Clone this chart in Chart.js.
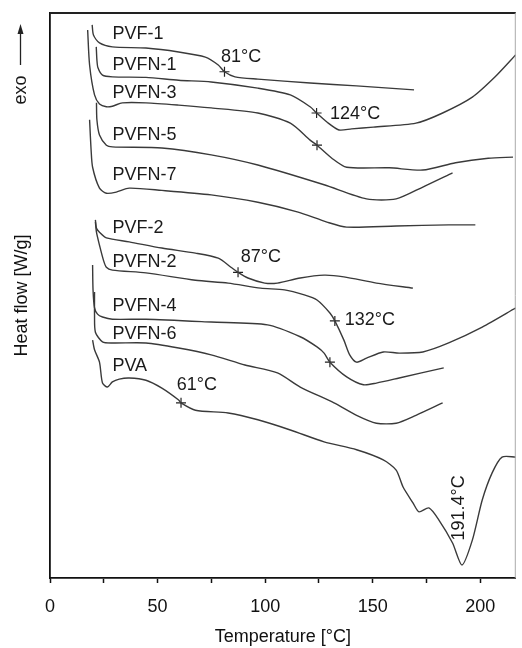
<!DOCTYPE html>
<html><head><meta charset="utf-8">
<script src="https://cdn.jsdelivr.net/npm/chart.js@4.4.1/dist/chart.umd.min.js"></script>
<style>html,body{margin:0;padding:0;background:#fff}</style>
</head><body><canvas id="c" width="522" height="648"></canvas>
<script>
// ---- data: [temperature °C, heat flow (arbitrary, offset)] ----
const pvf1 = [[19.6,97.9],[20.2,96.1],[23.0,94.7],[29.0,94.0],[44.6,93.8],[59.8,93.1],[72.2,92.2],[78.2,90.8],[81.1,89.6],[86.0,88.7],[96.6,88.3],[120.9,87.6],[142.5,87.1],[169.2,86.4]];
const pvfn1 = [[21.5,94.0],[21.8,91.7],[22.3,90.3],[24.4,89.0],[29.0,88.7],[44.6,88.6],[59.8,88.1],[74.9,87.8],[96.6,86.7],[111.7,85.5],[120.9,83.4],[123.9,82.3],[128.7,80.7],[134.3,79.3],[140.2,79.5],[150.3,79.8],[170.1,80.5],[182.5,82.3],[196.3,85.1],[206.9,88.7],[216.5,92.6]];
const pvfn3 = [[17.5,97.0],[18.4,90.8],[20.7,85.5],[23.0,83.9],[26.2,83.4],[29.0,83.5],[33.6,84.1],[44.6,84.1],[59.8,83.7],[74.9,83.2],[96.6,82.3],[111.7,80.5],[120.9,77.5],[124.1,76.6],[131.0,74.3],[137.9,72.7],[157.7,72.6],[173.3,72.2],[188.5,73.5],[203.7,74.3],[215.2,74.5]];
const pvfn5 = [[21.6,84.1],[21.8,81.1],[23.0,78.4],[26.2,76.6],[29.0,76.3],[52.0,76.1],[74.9,74.9],[96.6,73.1],[127.4,69.6],[147.1,67.1],[160.9,67.1],[173.3,69.2],[187.1,71.7]];
const pvfn7 = [[18.4,81.1],[19.1,75.8],[19.8,72.7],[23.0,69.0],[26.2,68.1],[30.8,68.3],[36.8,69.0],[52.0,68.6],[74.9,67.8],[96.6,66.5],[114.9,64.8],[128.7,63.0],[137.9,62.1],[160.9,62.3],[185.3,62.5],[197.7,62.5]];
const pvf2 = [[21.1,63.4],[21.6,61.9],[23.0,61.2],[26.2,60.2],[36.8,59.5],[52.0,58.4],[67.6,57.5],[78.2,56.6],[84.1,55.0],[87.4,54.1],[92.0,53.1],[99.8,52.2],[105.7,52.2],[116.3,53.1],[127.4,53.6],[136.6,53.3],[151.7,52.2],[168.7,51.3]];
const pvfn2 = [[21.1,63.0],[21.6,61.2],[23.0,58.9],[24.8,56.3],[26.2,55.0],[29.0,54.5],[44.6,54.0],[67.6,52.7],[82.8,52.2],[97.9,51.3],[109.0,51.0],[118.2,50.1],[124.1,49.2],[130.1,46.9],[132.4,45.5],[136.6,42.1],[139.3,39.5],[142.5,38.2],[147.1,38.9],[154.9,40.0],[162.3,39.8],[173.3,40.0],[185.3,41.6],[200.9,44.4],[216.5,47.8]];
const pvfn4 = [[19.8,55.4],[20.0,51.0],[20.7,47.8],[22.1,46.7],[24.4,46.2],[29.0,45.8],[44.6,45.8],[74.9,45.3],[101.1,44.8],[116.3,42.7],[124.1,40.9],[127.4,39.8],[130.1,38.2],[137.9,35.6],[145.7,34.2],[151.7,34.5],[162.3,35.4],[183.0,37.2]];
const pvfn6 = [[20.7,50.6],[20.7,46.5],[21.1,43.5],[24.4,41.8],[29.0,41.6],[44.6,41.6],[59.8,40.7],[74.9,39.5],[90.6,37.7],[105.7,36.3],[116.3,33.8],[132.0,31.0],[142.5,28.8],[151.7,27.4],[160.9,27.4],[170.1,28.8],[182.5,31.0]];
const pva = [[19.8,42.1],[20.7,40.4],[23.0,38.2],[24.4,34.5],[26.7,33.8],[29.0,34.7],[32.2,35.2],[36.8,35.4],[44.6,35.0],[52.0,33.6],[59.8,31.5],[60.9,31.0],[67.6,29.7],[82.8,29.2],[96.6,28.0],[111.7,26.2],[127.4,24.1],[142.5,22.7],[154.9,20.9],[160.9,19.1],[164.1,16.1],[168.7,13.3],[171.5,11.7],[176.1,12.4],[180.7,10.3],[187.1,6.2],[191.5,2.3],[196.3,6.7],[200.9,13.8],[205.5,18.6],[210.1,21.4],[216.5,21.4]];

// transition markers (temperature, heat flow)
const markT = [81.1, 123.9, 124.1, 87.4, 132.4, 130.1, 60.9];
const markH = [89.6, 82.3, 76.6, 54.1, 45.5, 38.2, 31.0];

// curve names with position (T, H)
const names = ['PVF-1','PVFN-1','PVFN-3','PVFN-5','PVFN-7','PVF-2','PVFN-2','PVFN-4','PVFN-6','PVA'];
const nameT = [29.0,29.0,29.0,29.0,29.0,29.0,29.0,29.0,29.0,29.0];
const nameH = [96.3,90.8,85.8,78.4,71.3,62.0,55.9,48.2,43.1,37.6];
// temperature annotations
const notes = ['81°C','124°C','87°C','132°C','61°C'];
const noteT = [79.5,130.1,88.7,137.0,58.9];
const noteH = [92.2,82.1,56.8,45.7,34.2];
const peakNote = '191.4°C', peakT = 189.9, peakH = 12.4;

const xTicksStep = 25;
const FONT = "Arial, 'Liberation Sans', Helvetica, sans-serif";
const LINE = '#3a3a3a';

const curves = [pvf1,pvfn1,pvfn3,pvfn5,pvfn7,pvf2,pvfn2,pvfn4,pvfn6,pva];
const datasets = curves.map((c,i) => ({
  label: names[i],
  data: c.map(p => ({x:p[0], y:p[1]})),
  showLine: true, borderColor: LINE, borderWidth: 1.4, pointRadius: 0, tension: 0.25, fill: false
}));
datasets.push({
  label: 'marks', data: markT.map((t,i)=>({x:t,y:markH[i]})), showLine:false,
  pointStyle:'cross', pointRadius:5, borderColor:'#222', borderWidth:1.2, pointHoverRadius:5
});

const annot = {
  id:'annot',
  afterDraw(chart){
    const {ctx, scales:{x,y}, chartArea:a} = chart;
    ctx.save();
    // frame top & right
    ctx.strokeStyle='#222'; ctx.lineWidth=1.8;
    ctx.beginPath(); ctx.moveTo(a.left, a.top); ctx.lineTo(a.right, a.top); ctx.stroke();
    ctx.strokeStyle='#aaa'; ctx.lineWidth=1;
    ctx.beginPath(); ctx.moveTo(a.right-0.5, a.top); ctx.lineTo(a.right-0.5, a.bottom); ctx.stroke();
    ctx.fillStyle='#1a1a1a'; ctx.font='18px '+FONT; ctx.textBaseline='middle'; ctx.textAlign='left';
    names.forEach((n,i)=>ctx.fillText(n, x.getPixelForValue(nameT[i]), y.getPixelForValue(nameH[i])));
    notes.forEach((n,i)=>ctx.fillText(n, x.getPixelForValue(noteT[i]), y.getPixelForValue(noteH[i])));
    ctx.save();
    ctx.translate(x.getPixelForValue(peakT), y.getPixelForValue(peakH));
    ctx.rotate(-Math.PI/2); ctx.textAlign='center';
    ctx.fillText(peakNote,0,0);
    ctx.restore();
    // exo arrow
    ctx.save();
    ctx.translate(21, 90); ctx.rotate(-Math.PI/2); ctx.textAlign='center';
    ctx.fillText('exo',0,0);
    ctx.restore();
    ctx.strokeStyle='#222'; ctx.lineWidth=1.3;
    ctx.beginPath(); ctx.moveTo(20.5,65); ctx.lineTo(20.5,30); ctx.stroke();
    ctx.fillStyle='#222';
    ctx.beginPath(); ctx.moveTo(20.5,24); ctx.lineTo(17.5,34); ctx.lineTo(23.5,34); ctx.closePath(); ctx.fill();
    ctx.restore();
  }
};

new Chart(document.getElementById('c'), {
  type:'scatter',
  data:{datasets},
  options:{
    responsive:false, animation:false,
    layout:{padding:{top:13,right:1,left:0,bottom:0}},
    plugins:{legend:{display:false}, tooltip:{enabled:false}},
    scales:{
      x:{type:'linear', min:0, max:216.5,
        afterFit(s){ s.height = 70; },
        ticks:{stepSize:xTicksStep, includeBounds:false, padding:13, color:'#111', font:{size:18, family:FONT},
          maxRotation:0, autoSkip:false,
          callback:v => (v % 50 === 0 ? String(v) : '')},
        grid:{drawOnChartArea:false, drawTicks:true, tickLength:5, color:'#111', tickWidth:1.5},
        border:{display:true, color:'#111', width:1.8},
        title:{display:true, text:'Temperature [°C]', color:'#111', font:{size:18, family:FONT}, padding:{top:0,bottom:0}}
      },
      y:{type:'linear', min:0, max:100,
        afterFit(s){ s.width = 50; },
        ticks:{display:false},
        grid:{drawOnChartArea:false, drawTicks:false},
        border:{display:true, color:'#111', width:1.8},
        title:{display:true, text:'Heat flow [W/g]', color:'#111', font:{size:18, family:FONT}, padding:{top:11,bottom:0}}
      }
    }
  },
  plugins:[annot]
});
</script></body></html>
